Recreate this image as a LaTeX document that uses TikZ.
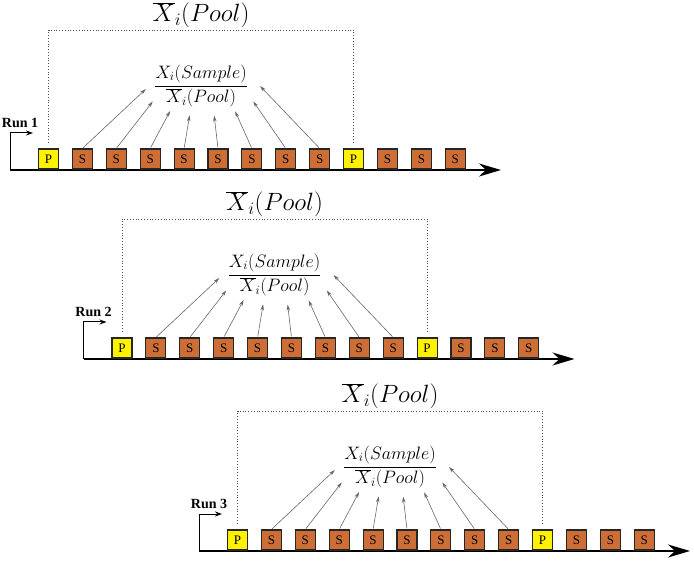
\RequirePackage{fix-cm}
\documentclass[tikz,border=0pt]{standalone}
\usepackage{fontspec}
\setmainfont{Liberation Serif}
\usetikzlibrary{arrows.meta, shapes.geometric}

\definecolor{sbrown}{RGB}{205,110,55}

\tikzset{
  boxS/.style={draw=black!85, line width=1.1pt, fill=sbrown, minimum size=20pt,
    inner sep=0pt, font=\fontsize{13}{15}\selectfont},
  boxP/.style={boxS, fill=yellow},
  timeaxis/.style={line width=1.5pt, -{Stealth[length=22pt, width=13pt, inset=7pt]}},
  runarrow/.style={line width=1pt, -{Stealth[length=7pt, width=5pt]}},
  poolline/.style={dotted, black!70, line width=0.8pt, shorten <=6pt, shorten >=6pt},
  ratio/.style={black!60, line width=0.6pt, -{Stealth[length=6pt, width=3.5pt]}, shorten <=1pt},
}

\begin{document}
\begin{tikzpicture}[x=1pt, y=-1pt]
  \useasboundingbox (0,0) rectangle (694,561);
  \foreach \r/\dx/\dy in {1/0/0, 2/73.5/189, 3/189/381}{
    \begin{scope}[shift={(\dx,\dy)}]
      % time axis and run start
      \coordinate (o\r) at (10,170);
      \coordinate (end\r) at (501,170);
      \coordinate (go\r) at (33,133);
      \draw[timeaxis] (o\r) -- (end\r);
      \draw[runarrow] (o\r) |- (go\r);
      \node[font=\bfseries\fontsize{14}{16}\selectfont] (run\r) at (20,123) {Run \r};
      % pool and sample boxes
      \foreach \k/\t in {0/P,1/S,2/S,3/S,4/S,5/S,6/S,7/S,8/S,9/P,10/S,11/S,12/S}
        \node[box\t] (b\r-\k) at (48.5+33.9*\k,159) {\t};
      % pool mean
      \node[font=\fontsize{25}{30}\selectfont] (pool\r) at (201,15) {$\overline{X}_i(Pool)$};
      \coordinate (top\r) at (201,30);
      \draw[poolline] (b\r-0.north) |- (top\r) -| (b\r-9.north);
      % ratio
      \node[font=\fontsize{18}{22}\selectfont] (frac\r) at (201,86)
        {$\displaystyle\frac{X_i(Sample)}{\overline{X}_i(Pool)}$};
      \node[ellipse, minimum width=114pt, minimum height=56pt, inner sep=0pt] (ring\r) at (203,88) {};
      \foreach \k/\a in {1/181, 2/195, 3/215, 4/244, 5/292, 6/324, 7/345, 8/2}
        \draw[ratio] (b\r-\k.north) -- (ring\r.\a);
    \end{scope}
  }
\end{tikzpicture}
\end{document}
